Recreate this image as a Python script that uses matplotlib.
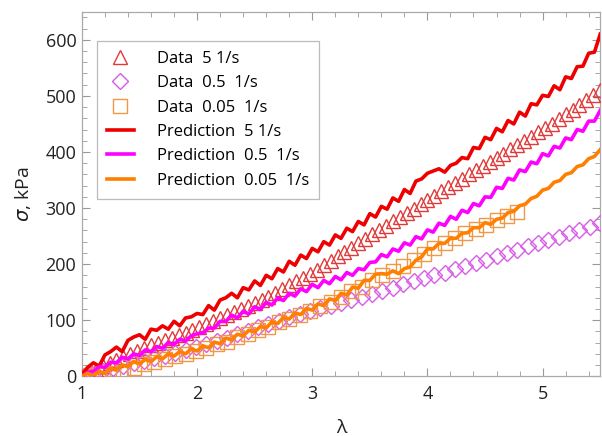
import numpy as np
import matplotlib
matplotlib.use("Agg")
import matplotlib.pyplot as plt
from matplotlib.ticker import MultipleLocator

plt.rcParams['font.family'] = ['Open Sans', 'DejaVu Sans']
plt.rcParams['mathtext.fontset'] = 'dejavusans'

# ---- data ----
lam_pred = np.linspace(1.0, 5.5, 91)
pred_5 = [2, 16, 24, 18, 38, 44, 52, 44, 64, 70, 74, 66, 84, 82, 90, 84, 98, 90, 104, 106,
          112, 110, 126, 118, 136, 140, 148, 140, 158, 154, 170, 162, 180, 174, 192, 186, 205, 198, 216, 210,
          228, 222, 240, 234, 252, 246, 264, 258, 276, 270, 290, 284, 303, 298, 318, 312, 333, 326, 348, 352,
          362, 366, 370, 364, 376, 380, 390, 388, 408, 406, 426, 422, 442, 436, 456, 450, 471, 464, 486, 484,
          501, 499, 518, 511, 534, 531, 552, 553, 576, 578, 610]
pred_05 = [0, 7, 9, 17, 16, 25, 24, 34, 31, 40, 37, 47, 44, 53, 50, 60, 57, 66, 63, 72,
           76, 77, 86, 86, 98, 98, 109, 104, 116, 111, 124, 119, 132, 127, 140, 135, 148, 143, 156, 151,
           164, 158, 171, 165, 178, 172, 185, 180, 192, 190, 203, 204, 217, 213, 227, 223, 238, 234, 249, 245,
           261, 257, 273, 269, 285, 280, 296, 292, 308, 304, 320, 319, 337, 335, 353, 350, 368, 365, 382, 379,
           397, 393, 410, 407, 425, 422, 440, 437, 455, 455, 474]
pred_005 = [0, 5, 1, 9, 5, 14, 11, 20, 17, 26, 22, 30, 26, 35, 31, 40, 36, 44, 40, 49,
            45, 54, 51, 61, 58, 68, 65, 75, 72, 82, 79, 89, 86, 97, 94, 105, 102, 113, 110, 121,
            118, 129, 126, 138, 135, 148, 145, 159, 157, 171, 171, 182, 183, 182, 188, 183, 192, 195, 207, 213,
            227, 227, 237, 237, 246, 246, 255, 256, 265, 265, 274, 271, 280, 282, 292, 294, 304, 307, 317, 321,
            332, 335, 346, 349, 360, 363, 374, 377, 388, 392, 404]

lam_d5 = np.linspace(1.0, 5.5, 76)
data_5 = [0, 6, 12, 18, 24, 29, 34, 40, 45, 50, 55, 60, 65, 69, 74, 78, 83, 88, 93, 99,
          104, 109, 115, 120, 126, 131, 136, 142, 149, 155, 162, 169, 175, 183, 190, 198, 206, 214, 221, 229,
          237, 245, 253, 260, 268, 276, 284, 292, 299, 307, 315, 322, 330, 337, 345, 352, 360, 367, 375, 382,
          390, 397, 405, 412, 420, 427, 435, 443, 450, 459, 467, 475, 484, 492, 501, 510]

lam_d05 = np.linspace(1.0, 5.5, 51)
data_05 = [0, 4, 9, 14, 19, 23, 27, 32, 37, 42, 47, 52, 57, 63, 69, 75, 81, 87, 93, 99,
           105, 111, 116, 121, 126, 131, 136, 141, 146, 152, 158, 164, 170, 175, 180, 185, 191, 197, 202, 208,
           214, 220, 226, 232, 238, 243, 249, 255, 261, 267, 273]

lam_d005 = np.linspace(1.0, 4.78, 43)
data_005 = [2, 3, 4, 6, 8, 14, 22, 26, 30, 36, 40, 45, 50, 58, 62, 70, 75, 82, 88, 96,
            102, 110, 117, 125, 133, 142, 152, 160, 172, 180, 188, 196, 207, 218, 228, 238, 246, 255, 262, 270,
            278, 286, 293]

# ---- figure ----
fig = plt.figure(figsize=(6.02, 4.36), dpi=100)
ax = fig.add_axes([0.136, 0.137, 0.861, 0.836])

c_red, c_mag, c_org = '#ee0000', '#ff00ff', '#ff8000'
ax.plot(lam_d5, data_5, linestyle='none', marker='^', ms=9.5, mfc='none', mec='#e03a3a', mew=1.0,
        label='Data  5 1/s', zorder=3)
ax.plot(lam_d05, data_05, linestyle='none', marker='D', ms=8.5, mfc='none', mec='#d85ce8', mew=1.0,
        label='Data  0.5  1/s', zorder=3)
ax.plot(lam_d005, data_005, linestyle='none', marker='s', ms=9.5, mfc='none', mec='#f09848', mew=1.0,
        label='Data  0.05  1/s', zorder=3)
ax.plot(lam_pred, pred_5, color=c_red, lw=2.6, label='Prediction  5 1/s', zorder=4)
ax.plot(lam_pred, pred_05, color=c_mag, lw=2.6, label='Prediction  0.5  1/s', zorder=4)
ax.plot(lam_pred, pred_005, color=c_org, lw=2.6, label='Prediction  0.05  1/s', zorder=4)

ax.set_xlim(1, 5.5)
ax.set_ylim(0, 650)
ax.xaxis.set_major_locator(MultipleLocator(1))
ax.xaxis.set_minor_locator(MultipleLocator(0.2))
ax.yaxis.set_major_locator(MultipleLocator(100))
ax.yaxis.set_minor_locator(MultipleLocator(20))
ax.tick_params(which='both', direction='in', top=True, right=True, color='#999999')
ax.tick_params(which='major', length=6, width=0.8, labelsize=13, labelcolor='#222222')
ax.tick_params(axis='x', which='major', pad=6)
ax.tick_params(axis='y', which='major', pad=4)
ax.tick_params(which='minor', length=3.5, width=0.6)
for s in ax.spines.values():
    s.set_color('#aaaaaa')
    s.set_linewidth(0.9)

ax.set_xlabel('λ', fontsize=14, color='#222222', labelpad=12)
ax.set_ylabel(r'$\sigma$, kPa', fontsize=14, color='#222222', labelpad=9)

leg = ax.legend(loc='upper left', bbox_to_anchor=(0.029, 0.92), fontsize=12, frameon=True,
                fancybox=False, edgecolor='#aaaaaa', handlelength=1.6, handletextpad=1.4,
                labelspacing=0.5, borderpad=0.6, borderaxespad=0)
leg.get_frame().set_linewidth(0.9)

fig.savefig('out.png', dpi=100)
